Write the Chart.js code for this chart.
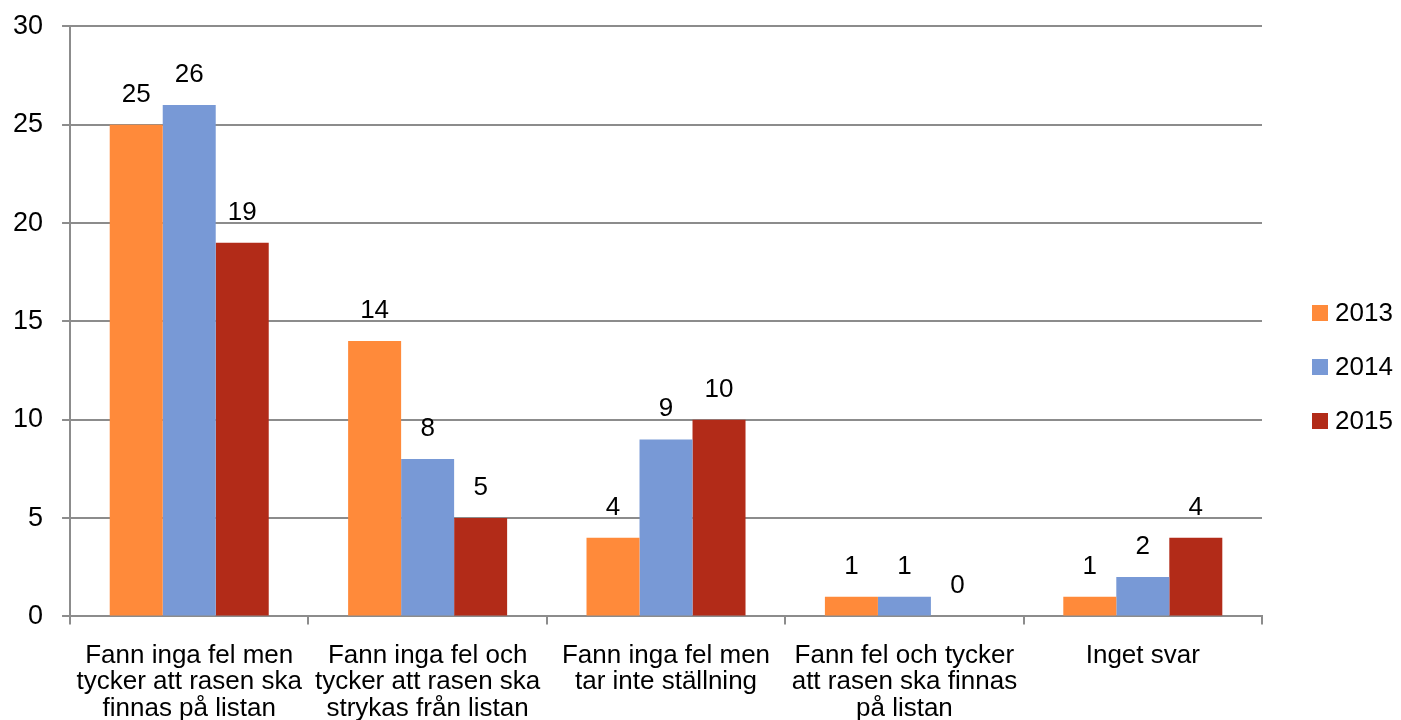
<!DOCTYPE html>
<html lang="sv">
<head>
<meta charset="UTF-8">
<title>Fann inga fel - 2013-2015</title>
<script src="https://cdn.jsdelivr.net/npm/chart.js"></script>
<style>
    html, body { margin: 0; padding: 0; background: #fff; }
    .chart-box { width: 1401px; height: 720px; position: relative; }
</style>
</head>
<body>
<div class="chart-box">
    <canvas id="svarChart"></canvas>
</div>
<script>
// Data
const categories = [
    ['Fann inga fel men', 'tycker att rasen ska', 'finnas på listan'],
    ['Fann inga fel och', 'tycker att rasen ska', 'strykas från listan'],
    ['Fann inga fel men', 'tar inte ställning'],
    ['Fann fel och tycker', 'att rasen ska finnas', 'på listan'],
    ['Inget svar']
];
const years = ['2013', '2014', '2015'];
const values2013 = [25, 14, 4, 1, 1];
const values2014 = [26, 8, 9, 1, 2];
const values2015 = [19, 5, 10, 0, 4];
const yTicks = [0, 5, 10, 15, 20, 25, 30];

const colors = ['#FF8A3A', '#7899D6', '#B22B18'];
const font = "'Liberation Sans', Arial, sans-serif";

// value labels above each bar
const barLabels = {
    id: 'barLabels',
    afterDatasetsDraw(chart) {
        const ctx = chart.ctx;
        ctx.save();
        ctx.font = '26px ' + font;
        ctx.fillStyle = '#000';
        ctx.textAlign = 'center';
        ctx.textBaseline = 'alphabetic';
        chart.data.datasets.forEach((ds, i) => {
            chart.getDatasetMeta(i).data.forEach((bar, j) => {
                ctx.fillText(ds.data[j], bar.x, bar.y - 23);
            });
        });
        ctx.restore();
    }
};

// legend on the right, drawn by hand so it can sit away from the plot
const sideLegend = {
    id: 'sideLegend',
    afterDraw(chart) {
        const ctx = chart.ctx;
        const x = chart.chartArea.right + 50;
        const midY = chart.height / 2 + 7;
        const rowGap = 54;
        const n = chart.data.datasets.length;
        ctx.save();
        ctx.font = '26px ' + font;
        ctx.textBaseline = 'middle';
        ctx.textAlign = 'left';
        chart.data.datasets.forEach((ds, i) => {
            const y = midY + (i - (n - 1) / 2) * rowGap;
            ctx.fillStyle = ds.backgroundColor;
            ctx.fillRect(x, y - 8, 16, 16);
            ctx.fillStyle = '#000';
            ctx.fillText(ds.label, x + 23, y + 1);
        });
        ctx.restore();
    }
};

new Chart(document.getElementById('svarChart'), {
    type: 'bar',
    data: {
        labels: categories,
        datasets: [
            { label: years[0], data: values2013, backgroundColor: colors[0] },
            { label: years[1], data: values2014, backgroundColor: colors[1] },
            { label: years[2], data: values2015, backgroundColor: colors[2] }
        ]
    },
    options: {
        responsive: true,
        maintainAspectRatio: false,
        animation: false,
        categoryPercentage: 0.667,
        barPercentage: 1.0,
        layout: { padding: { top: 0, left: -6, right: 139, bottom: -20 } },
        plugins: {
            legend: { display: false },
            tooltip: { enabled: false }
        },
        scales: {
            x: {
                grid: {
                    drawOnChartArea: false,
                    color: '#8c8c8c',
                    lineWidth: 2,
                    tickLength: 8,
                    offset: true
                },
                border: { color: '#8c8c8c', width: 2 },
                ticks: {
                    font: { family: font, size: 26, lineHeight: 1.02 },
                    color: '#000',
                    maxRotation: 0,
                    autoSkip: false,
                    padding: 18
                }
            },
            y: {
                min: 0,
                max: 30,
                afterBuildTicks(axis) {
                    axis.ticks = yTicks.map(v => ({ value: v }));
                },
                grid: {
                    color: '#8c8c8c',
                    lineWidth: 2,
                    tickLength: 8
                },
                border: { color: '#8c8c8c', width: 2 },
                ticks: {
                    font: { family: font, size: 27, lineHeight: 0.55 },
                    color: '#000',
                    padding: 19
                }
            }
        }
    },
    plugins: [barLabels, sideLegend]
});
</script>
</body>
</html>
